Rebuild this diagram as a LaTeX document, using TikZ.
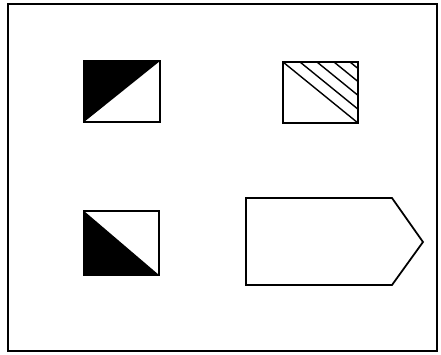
\documentclass[tikz,border=0pt]{standalone}
\tikzstyle{frame}=[line width=1.8pt]
\tikzstyle{box}=[line width=1.5pt]
\tikzstyle{hatch}=[line width=1.2pt]
\begin{document}
\begin{tikzpicture}[x=0.03cm, y=-0.03cm]
\useasboundingbox (0,0) rectangle (441,354);
\draw[frame] (8,4) rectangle (437,351);
% top left: black upper triangle
\fill (84,61) -- (160,61) -- (84,122) -- cycle;
\draw[box] (84,61) rectangle (160,122);
% top right: hatched corner
\begin{scope}
\clip (283,62) rectangle (358,123);
\foreach \d in {0,17,34,51,67}
	{\draw[hatch] (283+\d,62) -- (358+\d,123);}
\end{scope}
\draw[box] (283,62) rectangle (358,123);
% bottom left: black lower triangle
\fill (84,211) -- (84,275) -- (159,275) -- cycle;
\draw[box] (84,211) rectangle (159,275);
% bottom right: arrow shape
\draw[box] (246,198) -- (392,198) -- (423,242) -- (392,285) -- (246,285) -- cycle;
\end{tikzpicture}
\end{document}
